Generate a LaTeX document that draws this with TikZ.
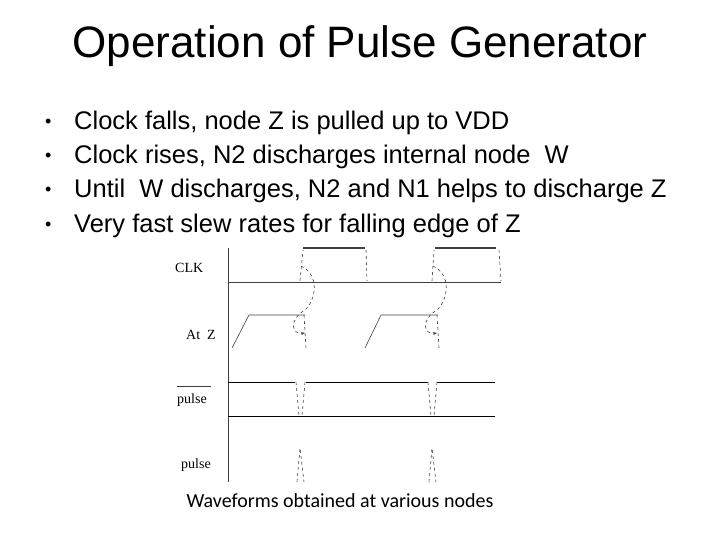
\documentclass[tikz,border=0pt]{standalone}
\usepackage{fontspec}
\setmainfont{Liberation Sans}
\newfontfamily\tmsfont{Liberation Serif}
\newfontfamily\carfont{Carlito}
\usetikzlibrary{arrows.meta}
\begin{document}
\begin{tikzpicture}[x=1pt,y=-1pt,
  wave/.style={line width=0.6pt,black!75},
  lbl/.style={font=\tmsfont\fontsize{14}{16}\selectfont,anchor=west,inner sep=0},
  bul/.style={font=\fontsize{25.5}{30}\selectfont,anchor=west,inner sep=0}]
\useasboundingbox (0,0) rectangle (720,540);
\node[font=\fontsize{44}{50}\selectfont] (title) at (360,46) {Operation of Pulse Generator};
\foreach \y/\t [count=\i] in {123/{Clock falls, node Z is pulled up to VDD},157/{Clock rises, N2 discharges internal node\ \ W},191/{Until\ \ W discharges, N2 and N1 helps to discharge Z},226/{Very fast slew rates for falling edge of Z}}{
  \node[bul,font=\fontsize{18}{20}\selectfont] (d\i) at (45,\y) {•};
  \node[bul] (b\i) at (74,\y) {\t};
}
% axis
\draw[wave] (228,248) -- (228,482);
% labels
\node[lbl] (lclk) at (175,268) {CLK};
\node[lbl] (lz) at (186,335) {At\ \ Z};
\node[lbl] (lpb) at (177,400) {pulse};
\draw[wave] (177,386) -- (211,386);
\node[lbl] (lp) at (181,465) {pulse};
% CLK
\draw[wave] (228,282) -- (501,282);
\draw[wave,line width=1.2pt] (303,248) -- (365,248);
\draw[wave,line width=1.2pt] (435,248) -- (496,248);
\draw[wave,dashed] (300,281) -- (303,250);
\draw[wave,dashed] (366,250) -- (367,281);
\draw[wave,dashed] (432,281) -- (434,250);
\draw[wave,dashed] (499,250) -- (501,281);
% At Z
\draw[wave] (232,348) -- (249,315) -- (305,315);
\draw[wave] (365,348) -- (381,315) -- (438,315);
\draw[wave,dashed] (304,315) -- (306,348);
\draw[wave,dashed] (437,315) -- (439,348);
% dashed causal curves
\foreach \dx in {0,132}{
 \begin{scope}[xshift=\dx]
 \draw[wave,dashed,-{Stealth[length=4pt]}] (301,266) .. controls (320,275) and (316,300) .. (305,310) .. controls (288,320) and (292,335) .. (305,333);
 \end{scope}
}
% pulse bar
\draw[wave,black] (228,382) -- (295,382);
\draw[wave,black] (306,382) -- (428,382);
\draw[wave,black] (437,382) -- (495,382);
\draw[wave,black] (228,416) -- (495,416);
\foreach \px in {0,132}{
 \begin{scope}[xshift=\px]
 \draw[wave,dashed] (296,382) -- (299,416);
 \draw[wave,dashed] (305,382) -- (302,416);
 \end{scope}
}
% pulse
\foreach \px in {0,132}{
 \begin{scope}[xshift=\px]
 \draw[wave,dashed] (297,482) -- (300,448) -- (304,482);
 \end{scope}
}
\node[font=\carfont\fontsize{20}{24}\selectfont] (cap) at (340,501) {Waveforms obtained at various nodes};
\end{tikzpicture}
\end{document}
